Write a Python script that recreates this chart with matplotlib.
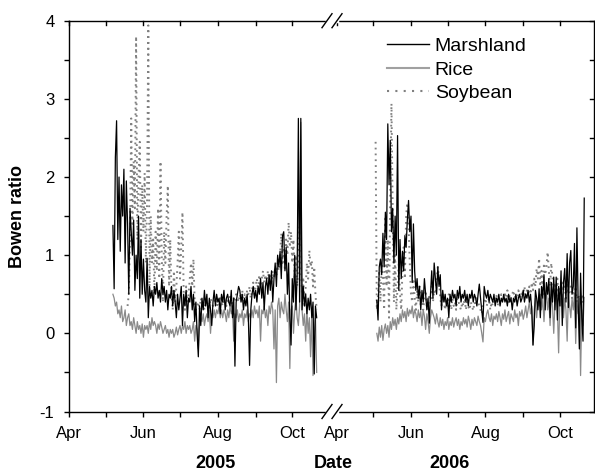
import numpy as np
import matplotlib
matplotlib.use("Agg")
import matplotlib.pyplot as plt

plt.rcParams['font.family'] = ['Liberation Sans', 'DejaVu Sans']
plt.rcParams['axes.unicode_minus'] = False

# daily Bowen ratio, 2005 season
marsh05_start = '2005-05-07'
marsh05 = [1.38, 0.57, 2.25, 2.72, 1.2, 2.0, 1.05,
           1.9, 1.5, 2.1, 0.9, 1.95, 1.4, 0.5,
           1.6, 1.3, 1.0, 1.45, 0.55, 1.0, 0.7,
           1.5, 0.45, 1.2, 0.5, 0.95, 0.55, 0.4,
           0.96, 0.2, 0.6, 0.45, 0.55, 0.35, 0.6,
           0.5, 0.65, 0.45, 0.55, 0.4, 0.7, 0.5,
           0.6, 0.4, 0.55, 0.3, 0.5, 0.45, 0.6,
           0.35, 0.55, 0.4, 0.2, 0.5, 0.3, 0.45,
           0.6, 0.1, 0.5, 0.35, 0.55, 0.2, 0.45,
           0.4, 0.6, 0.3, 0.5, 0.15, 0.4, 0.0,
           -0.3, 0.35, 0.1, 0.45, 0.3, 0.55, 0.35,
           0.5, 0.2, 0.45, 0.3, 0.1, 0.4, 0.55,
           0.35, 0.5, 0.4, 0.45, 0.25, 0.5, 0.4,
           0.55, 0.3, 0.45, 0.5, 0.4, 0.35, 0.55,
           0.2, 0.45, -0.42, 0.4, 0.5, 0.6, 0.55,
           0.4, 0.5, 0.3, 0.45, 0.35, 0.5, 0.2,
           -0.41, 0.3, 0.5, 0.6, 0.45, 0.55, 0.4,
           0.6, 0.5, 0.7, 0.45, 0.65, 0.3, 0.6,
           0.7, 0.5, 0.75, 0.55, 0.8, 0.4, 0.7,
           0.9, 0.6, 1.0, 0.85, 1.05, 0.7, 1.25,
           1.3, 0.8, 1.1, 0.5, 0.9, 0.2, -0.15,
           0.7, 0.4, 1.0, 0.3, 0.75, 2.75, 0.4,
           2.75, 0.3, 0.6, 0.35, 0.5, 0.25, 0.45,
           0.3, 0.5, 0.2, 0.4, -0.52, 0.35, 0.2]

rice05_start = '2005-05-07'
rice05 = [0.5, 0.45, 0.35, 0.4, 0.25, 0.3, 0.2,
          0.35, 0.15, 0.2, 0.3, 0.1, 0.2, 0.25,
          0.1, 0.15, 0.05, 0.2, 0.1, 0.0, 0.15,
          0.05, 0.1, 0.0, 0.12, -0.05, 0.1, 0.05,
          0.1, 0.0, 0.15, 0.05, 0.2, 0.1, 0.15,
          0.1, 0.0, 0.12, 0.05, 0.15, 0.08, 0.0,
          0.05, 0.1, 0.0, 0.05, -0.05, 0.05, 0.0,
          0.05, -0.05, 0.0, 0.08, -0.02, 0.05, 0.1,
          0.0, 0.1, 0.05, 0.15, 0.0, 0.1, 0.05,
          0.1, 0.0, 0.05, 0.15, -0.1, 0.1, 0.05,
          -0.2, 0.1, 0.2, 0.15, 0.25, 0.1, 0.2,
          0.25, 0.15, 0.3, 0.0, 0.25, 0.2, 0.3,
          0.2, 0.3, 0.25, 0.35, 0.2, 0.3, 0.2,
          0.3, 0.25, 0.15, 0.3, 0.2, 0.35, 0.25,
          0.3, -0.1, 0.25, 0.2, 0.3, 0.15, 0.25,
          0.2, 0.3, 0.1, 0.25, 0.2, 0.3, 0.15,
          0.25, 0.2, 0.3, 0.2, 0.35, 0.25, 0.3,
          0.2, 0.35, -0.1, 0.3, 0.25, 0.35, 0.2,
          0.3, 0.1, 0.35, 0.25, 0.4, 0.3, -0.2,
          0.3, -0.63, 0.35, 0.45, 0.2, 0.4, 0.3,
          0.25, 0.5, 0.3, 0.15, 0.4, -0.45, 0.3,
          0.35, 0.0, 0.3, 0.45, 0.2, 0.1, 0.35,
          2.7, 0.3, 0.1, 0.25, -0.1, 0.3, 0.0,
          0.2, -0.3, 0.25, -0.54, 0.0, 0.2, -0.5]

soy05_start = '2005-05-19'
soy05 = [0.35, 0.5, 1.2, 2.75, 1.4, 2.2, 1.6, 3.8, 1.2, 2.0, 2.45, 1.1, 1.9,
         1.3, 2.05, 0.9, 1.7, 3.94, 0.6, 1.5, 0.9, 1.2, 0.5, 1.3, 0.8, 1.6,
         0.7, 2.2, 1.0, 0.4, 1.3, 0.9, 1.5, 1.89, 0.6, 1.2, 0.5, 0.3, 0.8,
         0.4, 0.6, 0.9, 1.3, 0.7, 1.1, 1.55, 0.5, 0.3, 0.6, 0.4, 0.5, 0.7,
         0.9, 0.6, 0.95, 0.4, 0.3,
         0.35, 0.4, 0.3, 0.45, 0.35, 0.4, 0.3,
         0.45, 0.35, 0.4, 0.3, 0.45, 0.4, 0.35,
         0.4, 0.45, 0.35, 0.4, 0.3, 0.45, 0.4,
         0.35, 0.45, 0.4, 0.35, 0.45, 0.4, 0.5,
         0.4, 0.35, 0.45, 0.4, 0.5, 0.45, 0.4,
         0.5, 0.45, 0.55, 0.4, 0.5, 0.45, 0.55,
         0.5, 0.6, 0.45, 0.55, 0.65, 0.5, 0.6,
         0.7, 0.55, 0.75, 0.6, 0.7, 0.8, 0.65,
         0.75, 0.6, 0.8, 0.7, 0.77, 0.65, 0.8,
         0.7, 0.85, 0.75, 0.9, 0.8, 1.0, 1.28,
         0.9, 1.1, 0.8, 1.2, 1.0, 1.42, 1.1,
         1.3, 0.9, 1.2, 0.7, 1.0, 0.6, 0.9,
         1.36, 0.8, 0.5, 0.72, 0.33, 0.6, 0.9,
         0.7, 1.06, 0.85, 0.93, 0.6, 0.85, 0.5,
         0.3]

# daily Bowen ratio, 2006 season
marsh06_start = '2006-05-04'
marsh06 = [0.42, 0.17, 0.85, 0.95, 0.75, 1.28, 0.85,
           1.55, 1.2, 2.68, 1.9, 2.47, 1.3, 1.6,
           0.9, 1.5, 1.0, 2.53, 0.55, 1.2, 0.7,
           1.05, 0.8, 1.25, 1.1, 1.45, 1.7, 1.3,
           1.5, 0.65, 1.4, 0.8, 0.55, 0.7, 0.45,
           0.6, 0.3, 0.55, 0.4, 0.7, 0.5, 0.3,
           0.45, 0.13, 0.5, 0.8, 0.45, 0.9, 0.7,
           0.5, 0.85, 0.6, 0.75, 0.3, 0.55, 0.4,
           0.5, 0.35, 0.45, 0.2, 0.5, 0.4, 0.55,
           0.45, 0.5, 0.35, 0.55, 0.45, 0.6, 0.4,
           0.5, 0.45, 0.55, 0.4, 0.5, 0.35, 0.5,
           0.45, 0.55, 0.4, 0.5, 0.45, 0.35, 0.5,
           0.63, 0.45, 0.3, 0.14, 0.6, 0.5, 0.45,
           0.55, 0.4, 0.5, 0.45, 0.4, 0.5, 0.35,
           0.45, 0.4, 0.5, 0.35, 0.45, 0.4, 0.5,
           0.4, 0.45, 0.35, 0.5, 0.4, 0.45, 0.3,
           0.45, 0.4, 0.5, 0.35, 0.45, 0.5, 0.4,
           0.45, 0.55, 0.4, 0.5, 0.45, 0.55, 0.4,
           0.5, 0.3, -0.15, 0.1, 0.55, 0.45, 0.3,
           0.57, 0.2, 0.6, 0.45, 0.75, 0.3, 0.65,
           0.5, 0.7, 0.2, 0.65, 0.4, 0.72, 0.3,
           0.72, 0.17, 0.6, 0.35, 0.8, 0.1, 0.65,
           0.83, 0.4, 1.02, 0.33, 0.9, 1.06, 0.5,
           0.6, 1.15, 0.07, 1.35, 0.4, -0.2, 0.77,
           0.2, -0.1, 1.73]

rice06_start = '2006-05-04'
rice06 = [0.0, -0.1, 0.08, -0.05, 0.1, -0.09, 0.05,
          0.12, 0.0, 0.1, -0.05, 0.15, 0.05, 0.2,
          0.1, 0.18, 0.05, 0.2, 0.12, 0.25, 0.15,
          0.3, 0.2, 0.28, 0.15, 0.32, 0.22, 0.3,
          0.25, 0.35, 0.2, 0.3, 0.25, 0.15, 0.3,
          0.2, 0.28, 0.1, 0.3, 0.22, 0.05, 0.25,
          0.15, 0.0, 0.2, 0.3, 0.25, 0.2, 0.12,
          0.25, 0.15, 0.08, 0.2, 0.1, 0.18, 0.05,
          0.15, 0.1, 0.2, 0.05, 0.15, 0.1, 0.2,
          0.08, 0.15, 0.2, 0.1, 0.18, 0.05, 0.15,
          0.1, 0.2, 0.12, 0.18, 0.08, 0.22, 0.15,
          0.05, 0.18, 0.1, 0.2, 0.15, 0.1, 0.22,
          0.15, 0.1, 0.0, -0.11, 0.2, 0.15, 0.25,
          0.3, 0.2, 0.15, 0.25, 0.1, 0.22, 0.18,
          0.25, 0.15, 0.28, 0.2, 0.1, 0.25, 0.18,
          0.3, 0.15, 0.22, 0.28, 0.12, 0.25, 0.2,
          0.15, 0.3, 0.2, 0.25, 0.1, 0.28, 0.22,
          0.3, 0.18, 0.25, 0.35, 0.2, 0.3, 0.4,
          0.25, 0.35, -0.15, 0.3, 0.45, 0.2, 0.4,
          0.35, 0.5, 0.3, 0.45, 0.15, 0.4, 0.55,
          0.3, 0.45, 0.1, 0.5, 0.35, 0.0, 0.4,
          0.5, 0.3, -0.25, 0.45, 0.35, 0.5, 0.2,
          0.45, 0.3, -0.1, 0.5, 0.35, 0.2, 0.45,
          0.3, 0.5, -0.13, 0.4, 0.25, 0.45, -0.54,
          0.3, 0.1, 0.46]

soy06_start = '2006-05-03'
soy06 = [2.45, 0.3, 0.5, 0.8, 0.4, 0.9, 0.7,
         0.3, 1.5, 0.6, 1.2, 0.2, 1.8, 2.94,
         1.6, 0.4, 1.0, 0.3, 0.6, 0.9, 0.5,
         0.3, 0.8, 1.1, 0.7, 1.5, 1.67, 1.4,
         0.9, 0.5, 0.4, 0.7, 0.45, 0.3, 0.55,
         0.4, 0.6, 0.35, 0.5, 0.3, 0.45, 0.55,
         0.35, 0.3, 0.5, 0.42, 0.6, 0.4, 0.55,
         0.5, 0.68, 0.85, 0.7, 0.45, 0.35, 0.5,
         0.4, 0.3, 0.45, 0.35, 0.5, 0.4, 0.3,
         0.45, 0.35, 0.4, 0.3, 0.45, 0.4, 0.35,
         0.3, 0.4, 0.35, 0.45, 0.3, 0.4, 0.35,
         0.3, 0.4, 0.35, 0.29, 0.4, 0.35, 0.45,
         0.4, 0.35, 0.3, 0.25, 0.35, 0.4, 0.45,
         0.35, 0.4, 0.45, 0.3, 0.4, 0.35, 0.45,
         0.4, 0.5, 0.35, 0.45, 0.4, 0.5, 0.45,
         0.4, 0.5, 0.45, 0.55, 0.4, 0.5, 0.45,
         0.5, 0.55, 0.45, 0.5, 0.4, 0.55, 0.5,
         0.45, 0.55, 0.5, 0.6, 0.45, 0.55, 0.5,
         0.6, 0.5, 0.65, 0.55, 0.7, 0.6, 0.83,
         0.7, 0.96, 0.6, 0.8, 0.5, 0.9, 0.75,
         0.85, 1.04, 0.8, 0.6, 0.9, 0.7, 0.55,
         0.65, 0.5, 0.7, 0.45, 0.6, 0.5, 0.65,
         0.55, 0.6, 0.45, 0.65, 0.5, 0.55, 0.6,
         0.45, 0.55, 0.5, 0.6, 0.4, 0.5, 0.45,
         0.35, 0.5, 0.4, 0.45]

month_labels = ['Apr', 'Jun', 'Aug', 'Oct']
year_labels = ['2005', '2006']

# the 2006 season is drawn after a gap on the same axis
shift06 = 219.3


def day_x(start, n):
    d0 = (np.datetime64(start) - np.datetime64(start[:4] + '-04-01')).astype(int)
    x = d0 + np.arange(n)
    if start.startswith('2006'):
        x = x + shift06
    return x


fig = plt.figure(figsize=(5.95, 4.72), dpi=100)
ax = fig.add_axes([69 / 595, 1 - 411.5 / 472, 525 / 595, 390.8 / 472])

grey_rice = '#8a8a8a'
grey_soy = '#808080'

for start, vals in [(soy05_start, soy05), (soy06_start, soy06)]:
    ax.plot(day_x(start, len(vals)), vals, color=grey_soy, lw=1.4,
            ls=(0, (0.9, 2.1)), zorder=1)
for start, vals in [(rice05_start, rice05), (rice06_start, rice06)]:
    ax.plot(day_x(start, len(vals)), vals, color=grey_rice, lw=0.9, zorder=2)
for start, vals in [(marsh05_start, marsh05), (marsh06_start, marsh06)]:
    ax.plot(day_x(start, len(vals)), vals, color='black', lw=0.9, zorder=3)

ax.set_xlim(0, 430.3)
ax.set_ylim(-1, 4)

major = [0, 61, 122, 183]
minor = [30, 91, 153]
ax.set_xticks(major + [m + shift06 for m in major])
ax.set_xticklabels(month_labels * 2)
ax.set_xticks(minor + [m + shift06 for m in minor], minor=True)
ax.set_yticks(range(-1, 5))
ax.set_yticks(np.arange(-0.5, 4, 1.0), minor=True)

ax.tick_params(which='both', direction='out', length=3.5, width=1,
               labelsize=12, pad=7, top=False, right=False)
for spine in ax.spines.values():
    spine.set_linewidth(1)

# inward ticks on the top and right frame
for x in ax.get_xticks(minor=False).tolist() + ax.get_xticks(minor=True).tolist():
    ax.plot([x, x], [1, 0.99], color='black', lw=1,
            transform=ax.get_xaxis_transform(), clip_on=False)
for y in np.arange(-1, 4.5, 0.5):
    ax.plot([1, 0.993], [y, y], color='black', lw=1,
            transform=ax.get_yaxis_transform(), clip_on=False)

# no tick under the axis break
ax.xaxis.get_major_ticks()[4].tick1line.set_visible(False)

# axis break marks
xb = (332 - 69) / 525
dx = 5 / 525
dy = 7 / 390.8
for yb in (0, 1):
    ax.plot([xb - dx, xb + dx], [yb, yb], color='white', lw=2.5,
            transform=ax.transAxes, clip_on=False, zorder=5)
    for c in (xb - dx, xb + dx):
        ax.plot([c - dx, c + dx], [yb - dy, yb + dy], color='black', lw=1,
                transform=ax.transAxes, clip_on=False, zorder=6)

ax.set_ylabel('Bowen ratio', fontsize=13, fontweight='bold', labelpad=10)

fig.text(216 / 595, 1 - 463 / 472, year_labels[0], ha='center', va='center',
         fontsize=13, fontweight='bold')
fig.text(333 / 595, 1 - 463 / 472, 'Date', ha='center', va='center',
         fontsize=13, fontweight='bold')
fig.text(450 / 595, 1 - 463 / 472, year_labels[1], ha='center', va='center',
         fontsize=13, fontweight='bold')

handles = [plt.Line2D([], [], color='black', lw=1),
           plt.Line2D([], [], color='#a0a0a0', lw=1.5),
           plt.Line2D([], [], color=grey_soy, lw=1.5, ls=(0, (1, 3)))]
ax.legend(handles, ['Marshland', 'Rice', 'Soybean'], loc='upper left',
          bbox_to_anchor=(387 / 595, 1 - 37.5 / 472),
          bbox_transform=fig.transFigure, frameon=False, fontsize=14,
          handlelength=2.15, handletextpad=0.3, labelspacing=0.3,
          borderpad=0, borderaxespad=0)

fig.savefig('out.png', dpi=100)
